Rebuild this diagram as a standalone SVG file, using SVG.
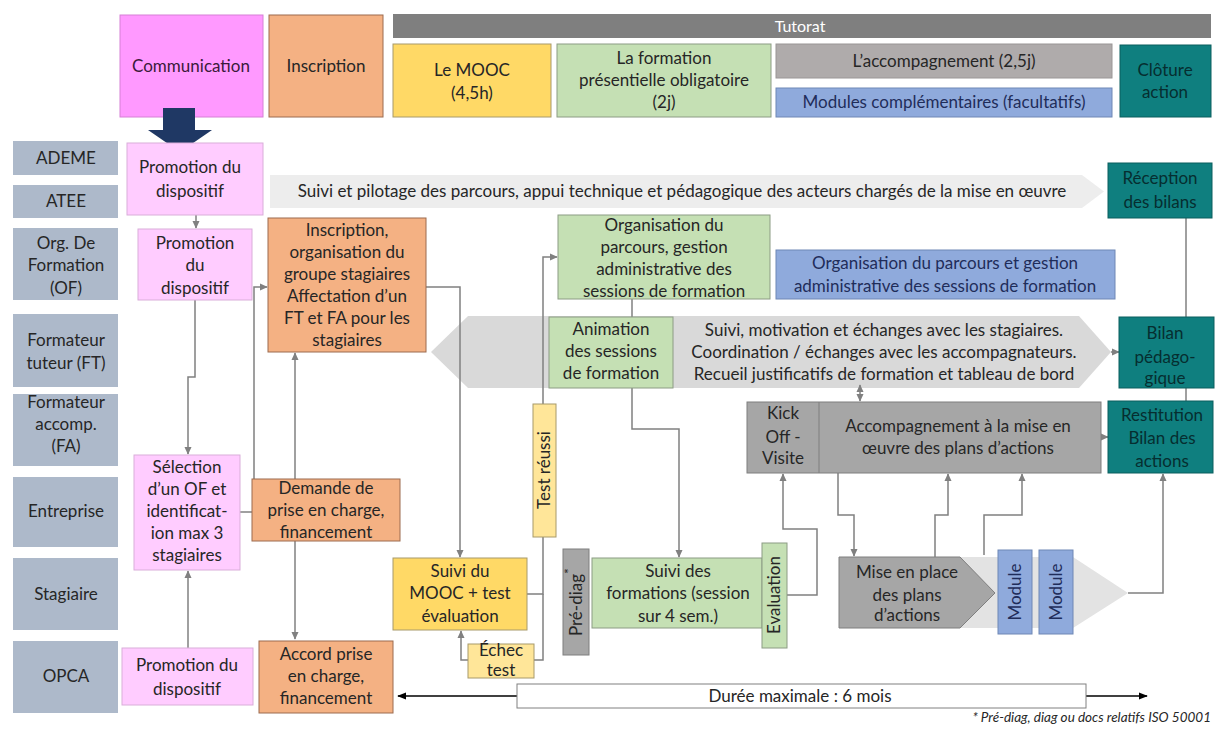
<svg xmlns="http://www.w3.org/2000/svg" width="1216" height="729" viewBox="0 0 1216 729">
<defs>
<style>
text{font-family:Lato,"Liberation Sans",sans-serif;font-size:17px;fill:#262626;text-anchor:middle}
.lbl{fill:#ADB9CA}
.pink{fill:#FFCCFF;stroke:#D9AED9;stroke-width:1}
.mag{fill:#FF99FF;stroke:#D580D5;stroke-width:1}
.orange{fill:#F4B183;stroke:#9C6B4E;stroke-width:1}
.green{fill:#C5E0B4;stroke:#8C9C84;stroke-width:1}
.yellow{fill:#FFD966;stroke:#A89A6A;stroke-width:1}
.lyellow{fill:#FFE699;stroke:#A89A6A;stroke-width:1}
.teal{fill:#0F7F7F;stroke:#0B5E5E;stroke-width:1}
.gray{fill:#A6A6A6;stroke:#7F7F7F;stroke-width:1}
.lgray{fill:#AFABAB;stroke:#9A9696;stroke-width:1}
.blue{fill:#8FAADC;stroke:#6F87B5;stroke-width:1}
.conn{fill:none;stroke:#808080;stroke-width:1.5}
.blk{fill:none;stroke:#000;stroke-width:1.3}
.tt{fill:#062E30}
.bt{fill:#1F2D5A}
.wt{fill:#FFFFFF;font-size:16px}
.pt{fill:#3A1A3A}
</style>
<marker id="ah" viewBox="0 0 10 10" refX="9" refY="5" markerWidth="8" markerHeight="8" orient="auto-start-reverse" markerUnits="userSpaceOnUse"><path d="M0,0.5 L10,5 L0,9.5 z" fill="#808080"/></marker>
<marker id="ahb" viewBox="0 0 10 10" refX="9" refY="5" markerWidth="9" markerHeight="9" orient="auto-start-reverse" markerUnits="userSpaceOnUse"><path d="M0,1 L10,5 L0,9 z" fill="#000"/></marker>
</defs>
<rect width="1216" height="729" fill="#FFFFFF"/>

<!-- background band shapes -->
<g id="bands">
<path d="M270,175 H1082 L1104,191.5 L1082,208 H270 Z" fill="#EDEDED"/>
<path d="M431,352 L468,316 H1079 L1111,352 L1079,388 H468 Z" fill="#D9D9D9"/>
<path d="M905,557 H1073 L1128,593 L1073,628 H905 Z" fill="#E3E3E3"/>
<text x="682" y="197">Suivi et pilotage des parcours, appui technique et pédagogique des acteurs chargés de la mise en œuvre</text>
<text x="884" y="336">Suivi, motivation et échanges avec les stagiaires.</text>
<text x="884" y="358">Coordination / échanges avec les accompagnateurs.</text>
<text x="884" y="380">Recueil justificatifs de formation et tableau de bord</text>
</g>

<!-- header row -->
<g id="communication"><rect class="mag" x="120" y="15" width="143" height="102"/><text class="pt" x="191" y="72">Communication</text></g>
<g id="inscription-head"><rect class="orange" x="269" y="15" width="114" height="102"/><text x="326" y="72">Inscription</text></g>
<g id="tutorat"><rect x="393" y="14" width="818" height="24" fill="#7F7F7F"/><text class="wt" x="800" y="32">Tutorat</text></g>
<g id="mooc-head"><rect class="yellow" x="393" y="44" width="158" height="73"/><text x="472" y="76">Le MOOC</text><text x="472" y="99">(4,5h)</text></g>
<g id="formation-head"><rect class="green" x="557" y="44" width="214" height="73"/><text x="664" y="64">La formation</text><text x="664" y="86">présentielle obligatoire</text><text x="664" y="108">(2j)</text></g>
<g id="accomp-head"><rect class="lgray" x="776" y="44" width="336" height="34"/><text x="944" y="67">L’accompagnement (2,5j)</text></g>
<g id="modules-head"><rect class="blue" x="776" y="88" width="336" height="29"/><text class="bt" x="944" y="108">Modules complémentaires (facultatifs)</text></g>
<g id="cloture"><rect class="teal" x="1120" y="45" width="91" height="72"/><text class="tt" x="1165" y="76">Clôture</text><text class="tt" x="1165" y="98">action</text></g>

<!-- big navy arrow -->
<path id="big-arrow" d="M163,108 H195 V130 H212 L180,152 L148,130 H163 Z" fill="#1F3864"/>

<!-- lane labels -->
<g id="lane-ademe"><rect class="lbl" x="13" y="141" width="105" height="34"/><text x="66" y="164">ADEME</text></g>
<g id="lane-atee"><rect class="lbl" x="13" y="185" width="105" height="33"/><text x="66" y="207">ATEE</text></g>
<g id="lane-of"><rect class="lbl" x="13" y="228" width="105" height="72"/><text x="66" y="249">Org. De</text><text x="66" y="271">Formation</text><text x="66" y="294">(OF)</text></g>
<g id="lane-ft"><rect class="lbl" x="13" y="314" width="105" height="73"/><text x="66" y="346">Formateur</text><text x="66" y="369">tuteur (FT)</text></g>
<g id="lane-fa"><rect class="lbl" x="13" y="394" width="105" height="72"/><text x="66" y="408">Formateur</text><text x="66" y="430">accomp.</text><text x="66" y="452">(FA)</text></g>
<g id="lane-entreprise"><rect class="lbl" x="13" y="477" width="105" height="70"/><text x="66" y="517">Entreprise</text></g>
<g id="lane-stagiaire"><rect class="lbl" x="13" y="558" width="105" height="72"/><text x="66" y="600">Stagiaire</text></g>
<g id="lane-opca"><rect class="lbl" x="13" y="641" width="105" height="72"/><text x="66" y="682">OPCA</text></g>

<!-- connectors -->
<g id="connectors">
<path class="conn" d="M196,215 V228" marker-end="url(#ah)"/>
<path class="conn" d="M195,300 V377 H188 V454" marker-end="url(#ah)"/>
<path class="conn" d="M188,648 V571" marker-end="url(#ah)"/>
<path class="conn" d="M240,512 H252"/>
<path class="conn" d="M254,479 V287 H267" marker-end="url(#ah)"/>
<path class="conn" d="M295,479 V353" marker-end="url(#ah)"/>
<path class="conn" d="M295,541 V639" marker-end="url(#ah)"/>
<path class="conn" d="M426,287 H460 V557" marker-end="url(#ah)"/>
<path class="conn" d="M527,594 H543 V257 H557" marker-end="url(#ah)"/>
<path class="conn" d="M543,594 V660 H534"/>
<path class="conn" d="M468,660 H461 V631" marker-end="url(#ah)"/>
<path class="conn" d="M632,299 V317"/>
<path class="conn" d="M632,388 V429 H679 V557" marker-end="url(#ah)"/>
<path class="conn" d="M787,595 H817 V529 H783 V474" marker-end="url(#ah)"/>
<path class="conn" d="M838,473 V515 H854 V556" marker-end="url(#ah)"/>
<path class="conn" d="M935,557 V515 H948 V474" marker-end="url(#ah)"/>
<path class="conn" d="M984,555 V515 H1022 V474" marker-end="url(#ah)"/>
<path class="conn" d="M1128,593 H1163 V474" marker-end="url(#ah)"/>
<path class="conn" d="M1101,437 H1108" marker-end="url(#ah)"/>
<path class="conn" d="M1111,352 H1119" marker-end="url(#ah)"/>
<path class="conn" d="M860,385 V401" marker-start="url(#ah)" marker-end="url(#ah)"/>
<path class="conn" d="M1186,218 V317"/>
<path class="conn" d="M1186,388 V401"/>
<path class="blk" d="M517,696 H398" marker-end="url(#ahb)"/>
<path class="blk" d="M1086,696 H1147" marker-end="url(#ahb)"/>
</g>

<!-- nodes -->
<g id="promo-ademe"><rect class="pink" x="127" y="143" width="136" height="72"/><text x="190" y="173">Promotion du</text><text x="190" y="197">dispositif</text></g>
<g id="promo-of"><rect class="pink" x="138" y="229" width="114" height="71"/><text x="195" y="249">Promotion</text><text x="195" y="271">du</text><text x="195" y="294">dispositif</text></g>
<g id="selection"><rect class="pink" x="134" y="455" width="106" height="115"/><text x="187" y="473">Sélection</text><text x="187" y="495">d’un OF et</text><text x="187" y="517">identificat-</text><text x="187" y="539">ion max 3</text><text x="187" y="561">stagiaires</text></g>
<g id="promo-opca"><rect class="pink" x="122" y="648" width="131" height="57"/><text x="187" y="671">Promotion du</text><text x="187" y="695">dispositif</text></g>

<g id="inscription"><rect class="orange" x="268" y="218" width="158" height="134"/><text x="347" y="236">Inscription,</text><text x="347" y="258">organisation du</text><text x="347" y="280">groupe stagiaires</text><text x="347" y="302">Affectation d’un</text><text x="347" y="324">FT et FA pour les</text><text x="347" y="346">stagiaires</text></g>
<g id="demande"><rect class="orange" x="252" y="479" width="148" height="62"/><text x="326" y="494">Demande de</text><text x="326" y="516">prise en charge,</text><text x="326" y="538">financement</text></g>
<g id="accord"><rect class="orange" x="259" y="641" width="134" height="72"/><text x="326" y="660">Accord prise</text><text x="326" y="682">en charge,</text><text x="326" y="704">financement</text></g>

<g id="organisation"><rect class="green" x="558" y="215" width="212" height="84"/><text x="664" y="231">Organisation du</text><text x="664" y="253">parcours, gestion</text><text x="664" y="275">administrative des</text><text x="664" y="297">sessions de formation</text></g>
<g id="animation"><rect class="green" x="549" y="317" width="124" height="71"/><text x="611" y="335">Animation</text><text x="611" y="357">des sessions</text><text x="611" y="379">de formation</text></g>
<g id="organisation-fa"><rect class="blue" x="776" y="250" width="339" height="49"/><text class="bt" x="945" y="269">Organisation du parcours et gestion</text><text class="bt" x="945" y="292">administrative des sessions de formation</text></g>

<g id="reception"><rect class="teal" x="1108" y="163" width="104" height="55"/><text class="tt" x="1160" y="184">Réception</text><text class="tt" x="1160" y="208">des bilans</text></g>
<g id="bilan"><rect class="teal" x="1119" y="317" width="95" height="71"/><text class="tt" x="1165" y="339">Bilan</text><text class="tt" x="1165" y="363">pédago-</text><text class="tt" x="1165" y="384">gique</text></g>
<g id="restitution"><rect class="teal" x="1108" y="401" width="105" height="72"/><text class="tt" x="1162" y="421">Restitution</text><text class="tt" x="1162" y="444">Bilan des</text><text class="tt" x="1162" y="467">actions</text></g>

<g id="accompagnement"><rect class="gray" x="747" y="402" width="354" height="71"/><line x1="819" y1="402" x2="819" y2="473" stroke="#7F7F7F" stroke-width="1"/>
<text x="783" y="419">Kick</text><text x="783" y="443">Off -</text><text x="783" y="464">Visite</text>
<text x="958" y="432">Accompagnement à la mise en</text><text x="958" y="454">œuvre des plans d’actions</text></g>

<g id="suivi-mooc"><rect class="yellow" x="393" y="558" width="134" height="72"/><text x="460" y="577">Suivi du</text><text x="460" y="599">MOOC + test</text><text x="460" y="622">évaluation</text></g>
<g id="echec"><rect class="lyellow" x="468" y="644" width="66" height="34"/><text x="501" y="656">Échec</text><text x="501" y="676">test</text></g>
<g id="test-reussi"><rect class="lyellow" x="533" y="404" width="23" height="133"/><text transform="translate(550,470) rotate(-90)" x="0" y="0">Test réussi</text></g>
<g id="prediag"><rect class="gray" x="563" y="549" width="26" height="106"/><text transform="translate(582,602) rotate(-90)" x="0" y="0">Pré-diag<tspan baseline-shift="super" font-size="14">*</tspan></text></g>
<g id="suivi-formations"><rect class="green" x="592" y="558" width="170" height="70"/><text x="678" y="577">Suivi des</text><text x="678" y="599">formations (session</text><text x="678" y="622">sur 4 sem.)</text></g>
<g id="evaluation"><rect class="green" x="762" y="543" width="25" height="105"/><text transform="translate(780,595) rotate(-90)" x="0" y="0">Evaluation</text></g>

<g id="mise-en-place"><path class="gray" d="M839,557 H960 L995,593 L960,628 H839 Z"/><text x="907" y="578">Mise en place</text><text x="907" y="601">des plans</text><text x="907" y="621">d’actions</text></g>
<g id="module1"><rect class="blue" x="998" y="550" width="34" height="84" stroke="none"/><text class="bt" transform="translate(1021,592) rotate(-90)" x="0" y="0">Module</text></g>
<g id="module2"><rect class="blue" x="1039" y="550" width="34" height="84" stroke="none"/><text class="bt" transform="translate(1062,592) rotate(-90)" x="0" y="0">Module</text></g>

<g id="duree"><rect x="517" y="684" width="569" height="24" fill="#FFFFFF" stroke="#808080" stroke-width="1"/><text x="800" y="702">Durée maximale : 6 mois</text></g>

<text x="1211" y="722" style="font-size:13.5px;font-style:italic;text-anchor:end">* Pré-diag, diag ou docs relatifs ISO 50001</text>
</svg>
